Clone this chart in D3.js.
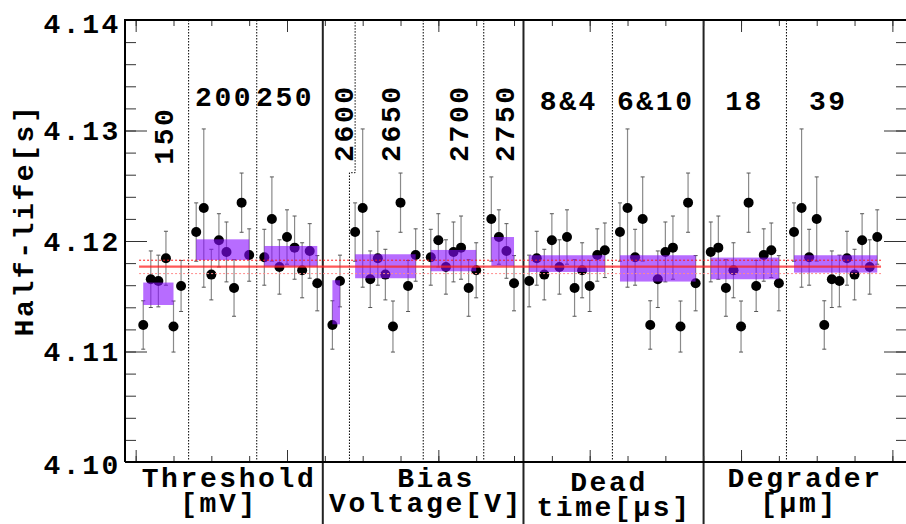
<!DOCTYPE html>
<html>
<head>
<meta charset="utf-8">
<script src="https://cdn.jsdelivr.net/npm/d3@7"></script>
<style>
  body { margin: 0; background: #fff; }
  text { font-family: "Liberation Mono", "Courier New", monospace; font-weight: bold; fill: #000; letter-spacing: 2.6px; }
</style>
</head>
<body>
<svg id="chart" width="906" height="524"></svg>
<script>
// Run number along the x axis (gaps separate the settings)
const runIndex = [
  1, 2, 3, 4, 5, 6,
  8, 9, 10, 11, 12, 13, 14, 15,
  17, 18, 19, 20, 21, 22, 23, 24,
  26, 27,
  29, 30, 31, 32, 33, 34, 35, 36, 37,
  39, 40, 41, 42, 43, 44, 45,
  47, 48, 49, 50,
  52, 53, 54, 55, 56, 57, 58, 59, 60, 61, 62,
  64, 65, 66, 67, 68, 69, 70, 71, 72, 73, 74,
  76, 77, 78, 79, 80, 81, 82, 83, 84, 85,
  87, 88, 89, 90, 91, 92, 93, 94, 95, 96, 97, 98
];
// Fitted half-life per run [s]
const halfLife = [
  4.11240, 4.11654, 4.11638, 4.11844, 4.11226, 4.11593,
  4.12081, 4.12298, 4.11696, 4.12006, 4.11901, 4.11575, 4.12347, 4.11873,
  4.11853, 4.12199, 4.11765, 4.12036, 4.11940, 4.11735, 4.11910, 4.11618,
  4.11240, 4.11638,
  4.12081, 4.12298, 4.11654, 4.11844, 4.11696, 4.11226, 4.12347, 4.11593, 4.11873,
  4.11853, 4.12006, 4.11765, 4.11901, 4.11940, 4.11575, 4.11735,
  4.12199, 4.12036, 4.11910, 4.11618,
  4.11638, 4.11844, 4.11696, 4.12006, 4.11765, 4.12036, 4.11575, 4.11735, 4.11593, 4.11873, 4.11916,
  4.12081, 4.12298, 4.11853, 4.12199, 4.11240, 4.11654, 4.11901, 4.11940, 4.11226, 4.12347, 4.11618,
  4.11901, 4.11940, 4.11575, 4.11735, 4.11226, 4.12347, 4.11593, 4.11873, 4.11916, 4.11618,
  4.12081, 4.12298, 4.11853, 4.12199, 4.11240, 4.11654, 4.11638, 4.11844, 4.11696, 4.12006, 4.11765, 4.12036
];
// Statistical uncertainty per run [s]
const halfLifeErr = [
  0.00219, 0.00256, 0.00234, 0.00244, 0.00231, 0.00231,
  0.00264, 0.00716, 0.00229, 0.00241, 0.00271, 0.00256, 0.00268, 0.00237,
  0.00253, 0.00381, 0.00246, 0.00246, 0.00286, 0.00249, 0.00247, 0.00250,
  0.00219, 0.00234,
  0.00264, 0.00716, 0.00256, 0.00244, 0.00229, 0.00231, 0.00268, 0.00231, 0.00237,
  0.00253, 0.00241, 0.00246, 0.00271, 0.00286, 0.00256, 0.00249,
  0.00381, 0.00246, 0.00247, 0.00250,
  0.00234, 0.00244, 0.00229, 0.00241, 0.00246, 0.00246, 0.00256, 0.00249, 0.00231, 0.00237, 0.00247,
  0.00264, 0.00716, 0.00253, 0.00381, 0.00219, 0.00256, 0.00271, 0.00286, 0.00231, 0.00268, 0.00250,
  0.00271, 0.00286, 0.00256, 0.00249, 0.00231, 0.00268, 0.00231, 0.00237, 0.00247, 0.00250,
  0.00264, 0.00716, 0.00253, 0.00381, 0.00219, 0.00256, 0.00234, 0.00244, 0.00229, 0.00241, 0.00246, 0.00246
];

// Per-setting combined result (band spans runs bandFirst..bandLast)
const groupNames = ["150", "200", "250", "2600", "2650", "2700", "2750", "8&4", "6&10", "18", "39"];
const bandFirst = [1, 8, 17, 26, 29, 39, 47, 52, 64, 76, 87];
const bandLast  = [5, 15, 24, 27, 37, 45, 50, 62, 74, 85, 98];
const bandLow   = [4.11421, 4.11828, 4.11769, 4.11246, 4.11663, 4.11726, 4.11774, 4.11720, 4.11633, 4.11654, 4.11714];
const bandHigh  = [4.11624, 4.12015, 4.11955, 4.11645, 4.11880, 4.11919, 4.12036, 4.11871, 4.11871, 4.11850, 4.11871];

// Overall weighted mean and its uncertainty
const meanHalfLife = 4.11769;
const meanLow = 4.11705;
const meanHigh = 4.11826;
const meanRunRange = [0.45, 98.5];

// Boundaries between settings (dotted) and between parameters (solid)
const settingEdges = [7, 16, 38, 46, 63, 86];
const parameterEdges = [24.73, 51.25, 75.05];
const parameterTitles = [["Threshold", "[mV]"], ["Bias", "Voltage[V]"], ["Dead", "time[\u00b5s]"], ["Degrader", "[\u00b5m]"]];

const yTickValues = [4.10, 4.11, 4.12, 4.13, 4.14];

// ---------------------------------------------------------------
const svg = d3.select("#chart");
const frame = { left: 125, right: 906, top: 20, bottom: 462 };
const x = d3.scaleLinear().domain([-1.41, 101.8]).range([frame.left, frame.right]);
const y = d3.scaleLinear().domain([4.10, 4.14]).range([frame.bottom, frame.top]);
const FS = 28;

const points = runIndex.map((r, i) => ({ r, v: halfLife[i], e: halfLifeErr[i] }));

// setting boundaries
const gEdges = svg.append("g");
gEdges.selectAll("line.set").data(settingEdges).join("line")
  .attr("x1", d => x(d)).attr("x2", d => x(d))
  .attr("y1", frame.top).attr("y2", frame.bottom)
  .attr("stroke", "#000").attr("stroke-width", 1).attr("stroke-dasharray", "1.5,1.5");
// the boundary after the 2600 V setting steps around the 2650 V label
gEdges.append("path")
  .attr("d", d3.line().x(d => x(d[0])).y(d => y(d[1]))([[28.25, 4.10], [28.25, 4.12618], [29, 4.12618], [29, 4.14]]))
  .attr("fill", "none").attr("stroke", "#000").attr("stroke-width", 1).attr("stroke-dasharray", "1.5,1.5");
gEdges.selectAll("line.par").data(parameterEdges).join("line")
  .attr("x1", d => x(d)).attr("x2", d => x(d))
  .attr("y1", frame.top).attr("y2", 524)
  .attr("stroke", "#222").attr("stroke-width", 2);

// error bars
const gErr = svg.append("g");
gErr.selectAll("line.bar").data(points).join("line")
  .attr("x1", d => x(d.r)).attr("x2", d => x(d.r))
  .attr("y1", d => y(d.v - d.e)).attr("y2", d => y(d.v + d.e))
  .attr("stroke", "#8a8a8a").attr("stroke-width", 1.2);
[-1, 1].forEach(s => {
  gErr.selectAll("line.cap" + (s > 0 ? "t" : "b")).data(points).join("line")
    .attr("x1", d => x(d.r) - 2).attr("x2", d => x(d.r) + 2)
    .attr("y1", d => y(d.v + s * d.e)).attr("y2", d => y(d.v + s * d.e))
    .attr("stroke", "#555").attr("stroke-width", 1);
});

// run results
svg.append("g").selectAll("circle").data(points).join("circle")
  .attr("cx", d => x(d.r)).attr("cy", d => y(d.v)).attr("r", 5)
  .attr("fill", "#000");

// per-setting bands
svg.append("g").selectAll("rect").data(groupNames).join("rect")
  .attr("x", (d, i) => x(bandFirst[i]))
  .attr("width", (d, i) => x(bandLast[i]) - x(bandFirst[i]))
  .attr("y", (d, i) => y(bandHigh[i]))
  .attr("height", (d, i) => y(bandLow[i]) - y(bandHigh[i]))
  .attr("fill", "rgb(135,10,255)").attr("fill-opacity", 0.6);

// overall mean
const gMean = svg.append("g");
gMean.append("line")
  .attr("x1", x(meanRunRange[0])).attr("x2", x(meanRunRange[1]))
  .attr("y1", y(meanHalfLife)).attr("y2", y(meanHalfLife))
  .attr("stroke", "#ff2020").attr("stroke-opacity", 0.75).attr("stroke-width", 2.2);
gMean.append("line")
  .attr("x1", x(meanRunRange[0])).attr("x2", x(meanRunRange[1]))
  .attr("y1", y(meanHigh)).attr("y2", y(meanHigh))
  .attr("stroke", "#ff1a1a").attr("stroke-width", 1).attr("stroke-dasharray", "2,2");
gMean.append("line")
  .attr("x1", x(meanRunRange[0])).attr("x2", x(meanRunRange[1]))
  .attr("y1", y(meanLow)).attr("y2", y(meanLow))
  .attr("stroke", "#ff8c8c").attr("stroke-width", 1).attr("stroke-dasharray", "2,2");

// axes with inward ticks on all four sides
const yMinor = d3.range(4.100, 4.1401, 0.002);
const xMajor = d3.range(0, 101, 20);
const xMinor = d3.range(0, 101, 5);
function axisGroup(axis, tx, ty) {
  const g = svg.append("g").attr("transform", `translate(${tx},${ty})`).call(axis);
  g.select(".domain").remove();
  g.selectAll(".tick line").attr("stroke", "#333");
  return g;
}
axisGroup(d3.axisLeft(y).tickValues(yMinor).tickSize(-11).tickFormat(""), frame.left, 0);
const yAxisG = axisGroup(d3.axisLeft(y).tickValues(yTickValues).tickSize(-22).tickPadding(4).tickFormat(d3.format(".2f")), frame.left, 0);
yAxisG.selectAll("text")
  .attr("font-size", FS).attr("dy", null)
  .attr("y", d => (d === 4.14 ? 12 : d === 4.10 ? 11 : 9))
  .style("font-family", '"Liberation Mono", monospace').style("font-weight", "bold");
axisGroup(d3.axisRight(y).tickValues(yMinor).tickSize(-10).tickFormat(""), frame.right, 0);
axisGroup(d3.axisRight(y).tickValues(yTickValues).tickSize(-22).tickFormat(""), frame.right, 0);
axisGroup(d3.axisBottom(x).tickValues(xMinor).tickSize(-6).tickFormat(""), 0, frame.bottom);
axisGroup(d3.axisBottom(x).tickValues(xMajor).tickSize(-12).tickFormat(""), 0, frame.bottom);
axisGroup(d3.axisTop(x).tickValues(xMinor).tickSize(-6).tickFormat(""), 0, frame.top);
axisGroup(d3.axisTop(x).tickValues(xMajor).tickSize(-12).tickFormat(""), 0, frame.top);

// frame
svg.append("path")
  .attr("d", `M${frame.left},${frame.bottom}V${frame.top}H${frame.right + 1}M${frame.left},${frame.bottom}H${frame.right + 1}`)
  .attr("fill", "none").attr("stroke", "#000").attr("stroke-width", 2);

// y-axis title
svg.append("text")
  .attr("transform", `translate(33,${y(4.1219)}) rotate(-90)`)
  .attr("text-anchor", "middle").attr("font-size", FS)
  .text("Half-life[s]");

// setting labels: [run position, value position, rotated?]
const settingLabelPlace = [
  [4.93, 4.12690, true], [7.84, 4.13222, false], [15.9, 4.13222, false],
  [28.7, 4.12716, true], [34.9, 4.12716, true], [43.9, 4.12716, true], [50.0, 4.12716, true],
  [53.4, 4.13190, false], [63.6, 4.13190, false], [77.9, 4.13190, false], [88.97, 4.13190, false]
];
svg.append("g").selectAll("text").data(groupNames).join("text")
  .attr("font-size", FS)
  .attr("transform", (d, i) => {
    const p = settingLabelPlace[i];
    return `translate(${x(p[0])},${y(p[1])})` + (p[2] ? " rotate(-90)" : "");
  })
  .text(d => d);

// parameter titles below the axis
const titlePlace = [[229, 219, 487], [436, 426, 487], [609, 614, 491], [805, 799, 487]];
parameterTitles.forEach((t, i) => {
  const [c1, c2, base] = titlePlace[i];
  svg.append("text").attr("x", c1).attr("y", base).attr("text-anchor", "middle").attr("font-size", FS).text(t[0]);
  svg.append("text").attr("x", c2).attr("y", base + 25).attr("text-anchor", "middle").attr("font-size", FS).text(t[1]);
});
</script>
</body>
</html>
